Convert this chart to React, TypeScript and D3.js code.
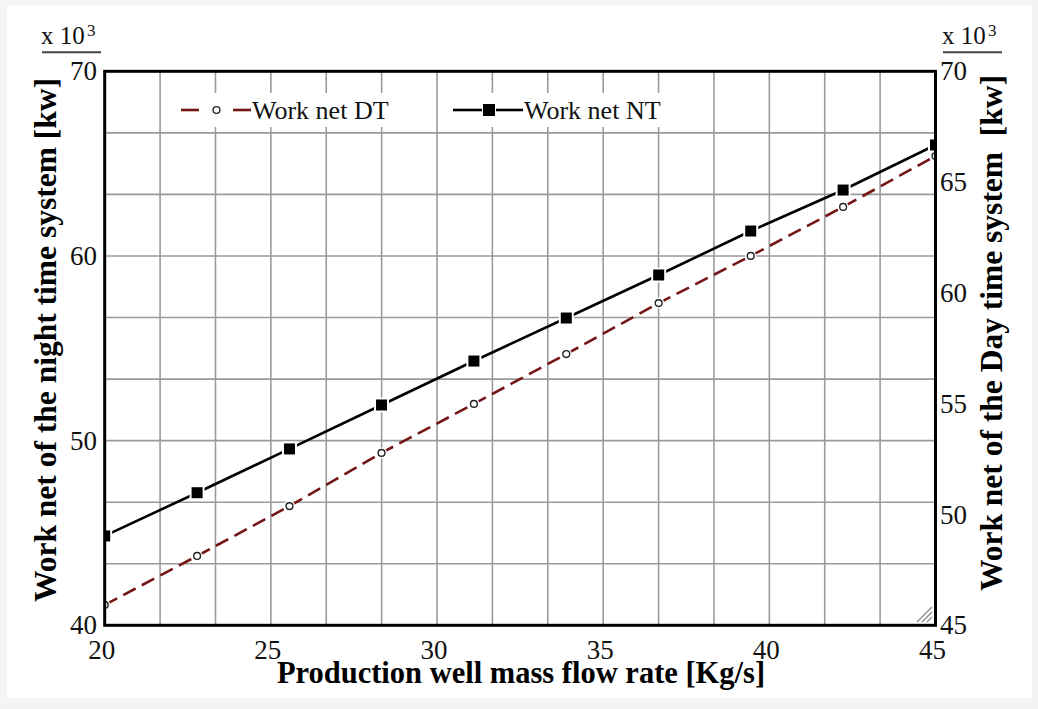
import React from "react";
import * as d3 from "d3";

// Production well mass flow rate [kg/s]
const flowRate = [20, 22.78, 25.56, 28.33, 31.11, 33.89, 36.67, 39.44, 42.22, 45];
// Net work, night-time system (x10^3 kW, left axis)
const workNetNT = [44.84, 47.18, 49.55, 51.93, 54.31, 56.64, 58.97, 61.35, 63.57, 66.01];
// Net work, day-time system (x10^3 kW, right axis)
const workNetDT = [45.92, 48.13, 50.38, 52.78, 54.99, 57.24, 59.54, 61.67, 63.88, 66.18];

const xTickLabels = [20, 25, 30, 35, 40, 45];
const leftTickLabels = [40, 50, 60, 70];
const rightTickLabels = [45, 50, 55, 60, 65, 70];

const W = 1038;
const H = 709;
const plot = { left: 104.7, right: 935.5, top: 71.3, bottom: 625.3 };
const FONT = "'Liberation Serif', 'Times New Roman', serif";
const DT_COLOR = "#741516";

export default function App() {
  const x = d3.scaleLinear().domain([20, 45]).range([plot.left, plot.right]);
  const yL = d3.scaleLinear().domain([40, 70]).range([plot.bottom, plot.top]);
  const yR = d3.scaleLinear().domain([45, 70]).range([plot.bottom, plot.top]);

  const gridX = d3.range(16).map((i) => 20 + (i * 25) / 15);
  const gridY = d3.range(10).map((i) => 40 + (i * 30) / 9);

  const ntPts = flowRate.map((f, i) => [f, workNetNT[i]] as [number, number]);
  const dtPts = flowRate.map((f, i) => [f, workNetDT[i]] as [number, number]);

  const lineNT = d3
    .line<[number, number]>()
    .x((d) => x(d[0]))
    .y((d) => yL(d[1]));
  const lineDT = d3
    .line<[number, number]>()
    .x((d) => x(d[0]))
    .y((d) => yR(d[1]));

  const sq = 11;

  return (
    <svg
      width={W}
      height={H}
      style={{ position: "absolute", left: 0, top: 0, fontFamily: FONT }}
    >
      <defs>
        <clipPath id="plotClip">
          <rect
            x={plot.left}
            y={plot.top}
            width={plot.right - plot.left}
            height={plot.bottom - plot.top}
          />
        </clipPath>
      </defs>
      <rect x={0} y={0} width={W} height={H} fill="#f4f4f4" />
      <rect x={7} y={5} width={1025} height={693} fill="#ffffff" />

      {/* grid */}
      <g stroke="#9a9a9a" strokeWidth={1.6}>
        {gridX.map((v, i) => (
          <line key={"gx" + i} x1={x(v)} x2={x(v)} y1={plot.top} y2={plot.bottom} />
        ))}
        {gridY.map((v, i) => (
          <line key={"gy" + i} x1={plot.left} x2={plot.right} y1={yL(v)} y2={yL(v)} />
        ))}
      </g>

      {/* legend backgrounds */}
      <rect x={168} y={93} width={262} height={34} fill="#fff" />
      <rect x={446} y={93} width={260} height={34} fill="#fff" />

      {/* series */}
      <g clipPath="url(#plotClip)">
        <path
          d={lineDT(dtPts) || ""}
          fill="none"
          stroke={DT_COLOR}
          strokeWidth={2.6}
          strokeDasharray="14 7"
        />
        {dtPts.map((d, i) => (
          <g key={"dt" + i}>
            <circle cx={x(d[0])} cy={yR(d[1])} r={5.5} fill="#fff" />
            <circle
              cx={x(d[0])}
              cy={yR(d[1])}
              r={3.4}
              fill="#fff"
              stroke="#222"
              strokeWidth={1.4}
            />
          </g>
        ))}
        <path d={lineNT(ntPts) || ""} fill="none" stroke="#000" strokeWidth={2.6} />
        {ntPts.map((d, i) => (
          <g key={"nt" + i}>
            <rect
              x={x(d[0]) - sq / 2 - 2}
              y={yL(d[1]) - sq / 2 - 2}
              width={sq + 4}
              height={sq + 4}
              fill="#fff"
            />
            <rect
              x={x(d[0]) - sq / 2}
              y={yL(d[1]) - sq / 2}
              width={sq}
              height={sq}
              fill="#000"
            />
          </g>
        ))}
      </g>

      {/* frame */}
      <rect
        x={plot.left}
        y={plot.top}
        width={plot.right - plot.left}
        height={plot.bottom - plot.top}
        fill="none"
        stroke="#000"
        strokeWidth={3}
      />

      {/* corner grip */}
      <g stroke="#8a8a8a" strokeWidth={1.3}>
        <line x1={917} y1={622} x2={932} y2={607} />
        <line x1={922} y1={622} x2={932} y2={612} />
        <line x1={927} y1={622} x2={932} y2={617} />
      </g>

      {/* legend */}
      <g>
        <line x1={181} x2={199} y1={110} y2={110} stroke={DT_COLOR} strokeWidth={2.6} />
        <line x1={233} x2={251} y1={110} y2={110} stroke={DT_COLOR} strokeWidth={2.6} />
        <circle cx={216.5} cy={110} r={3.4} fill="#fff" stroke="#222" strokeWidth={1.4} />
        <text x={252} y={119} fontSize={26} fill="#111">
          Work net DT
        </text>
        <line x1={453} x2={482} y1={110} y2={110} stroke="#000" strokeWidth={2.6} />
        <line x1={496} x2={523} y1={110} y2={110} stroke="#000" strokeWidth={2.6} />
        <rect x={489 - 6} y={110 - 6} width={12} height={12} fill="#000" />
        <text x={524} y={119} fontSize={26} fill="#111">
          Work net NT
        </text>
      </g>

      {/* tick labels */}
      <g fontSize={27} fill="#111">
        {xTickLabels.map((v) => (
          <text key={"xt" + v} x={x(v) - 3} y={659} textAnchor="middle">
            {v}
          </text>
        ))}
        {leftTickLabels.map((v) => (
          <text key={"lt" + v} x={97} y={yL(v) + 9} textAnchor="end">
            {v}
          </text>
        ))}
        {rightTickLabels.map((v) => (
          <text key={"rt" + v} x={940} y={yR(v) + 9} textAnchor="start">
            {v}
          </text>
        ))}
      </g>

      {/* scale factor markers */}
      <g fill="#111">
        <text x={41} y={44} fontSize={25}>
          x 10
        </text>
        <text x={87} y={36} fontSize={17}>
          3
        </text>
        <line x1={42} x2={101} y1={52.3} y2={52.3} stroke="#444" strokeWidth={2} />
        <text x={942} y={44} fontSize={25}>
          x 10
        </text>
        <text x={988} y={36} fontSize={17}>
          3
        </text>
        <line x1={943} x2={1002} y1={52.3} y2={52.3} stroke="#444" strokeWidth={2} />
      </g>

      {/* axis titles */}
      <g fontWeight="bold" fill="#000">
        <text x={521} y={683} fontSize={30.5} textAnchor="middle">
          Production well mass flow rate [Kg/s]
        </text>
        <text
          transform="translate(56,340) rotate(-90)"
          fontSize={31.5}
          textAnchor="middle"
        >
          Work net of the night time system [kw]
        </text>
        <text
          transform="translate(1001.5,333) rotate(-90)"
          fontSize={31.5}
          textAnchor="middle"
          style={{ whiteSpace: "pre" }}
        >
          {"Work net of the Day time system  [kw]"}
        </text>
      </g>
    </svg>
  );
}
